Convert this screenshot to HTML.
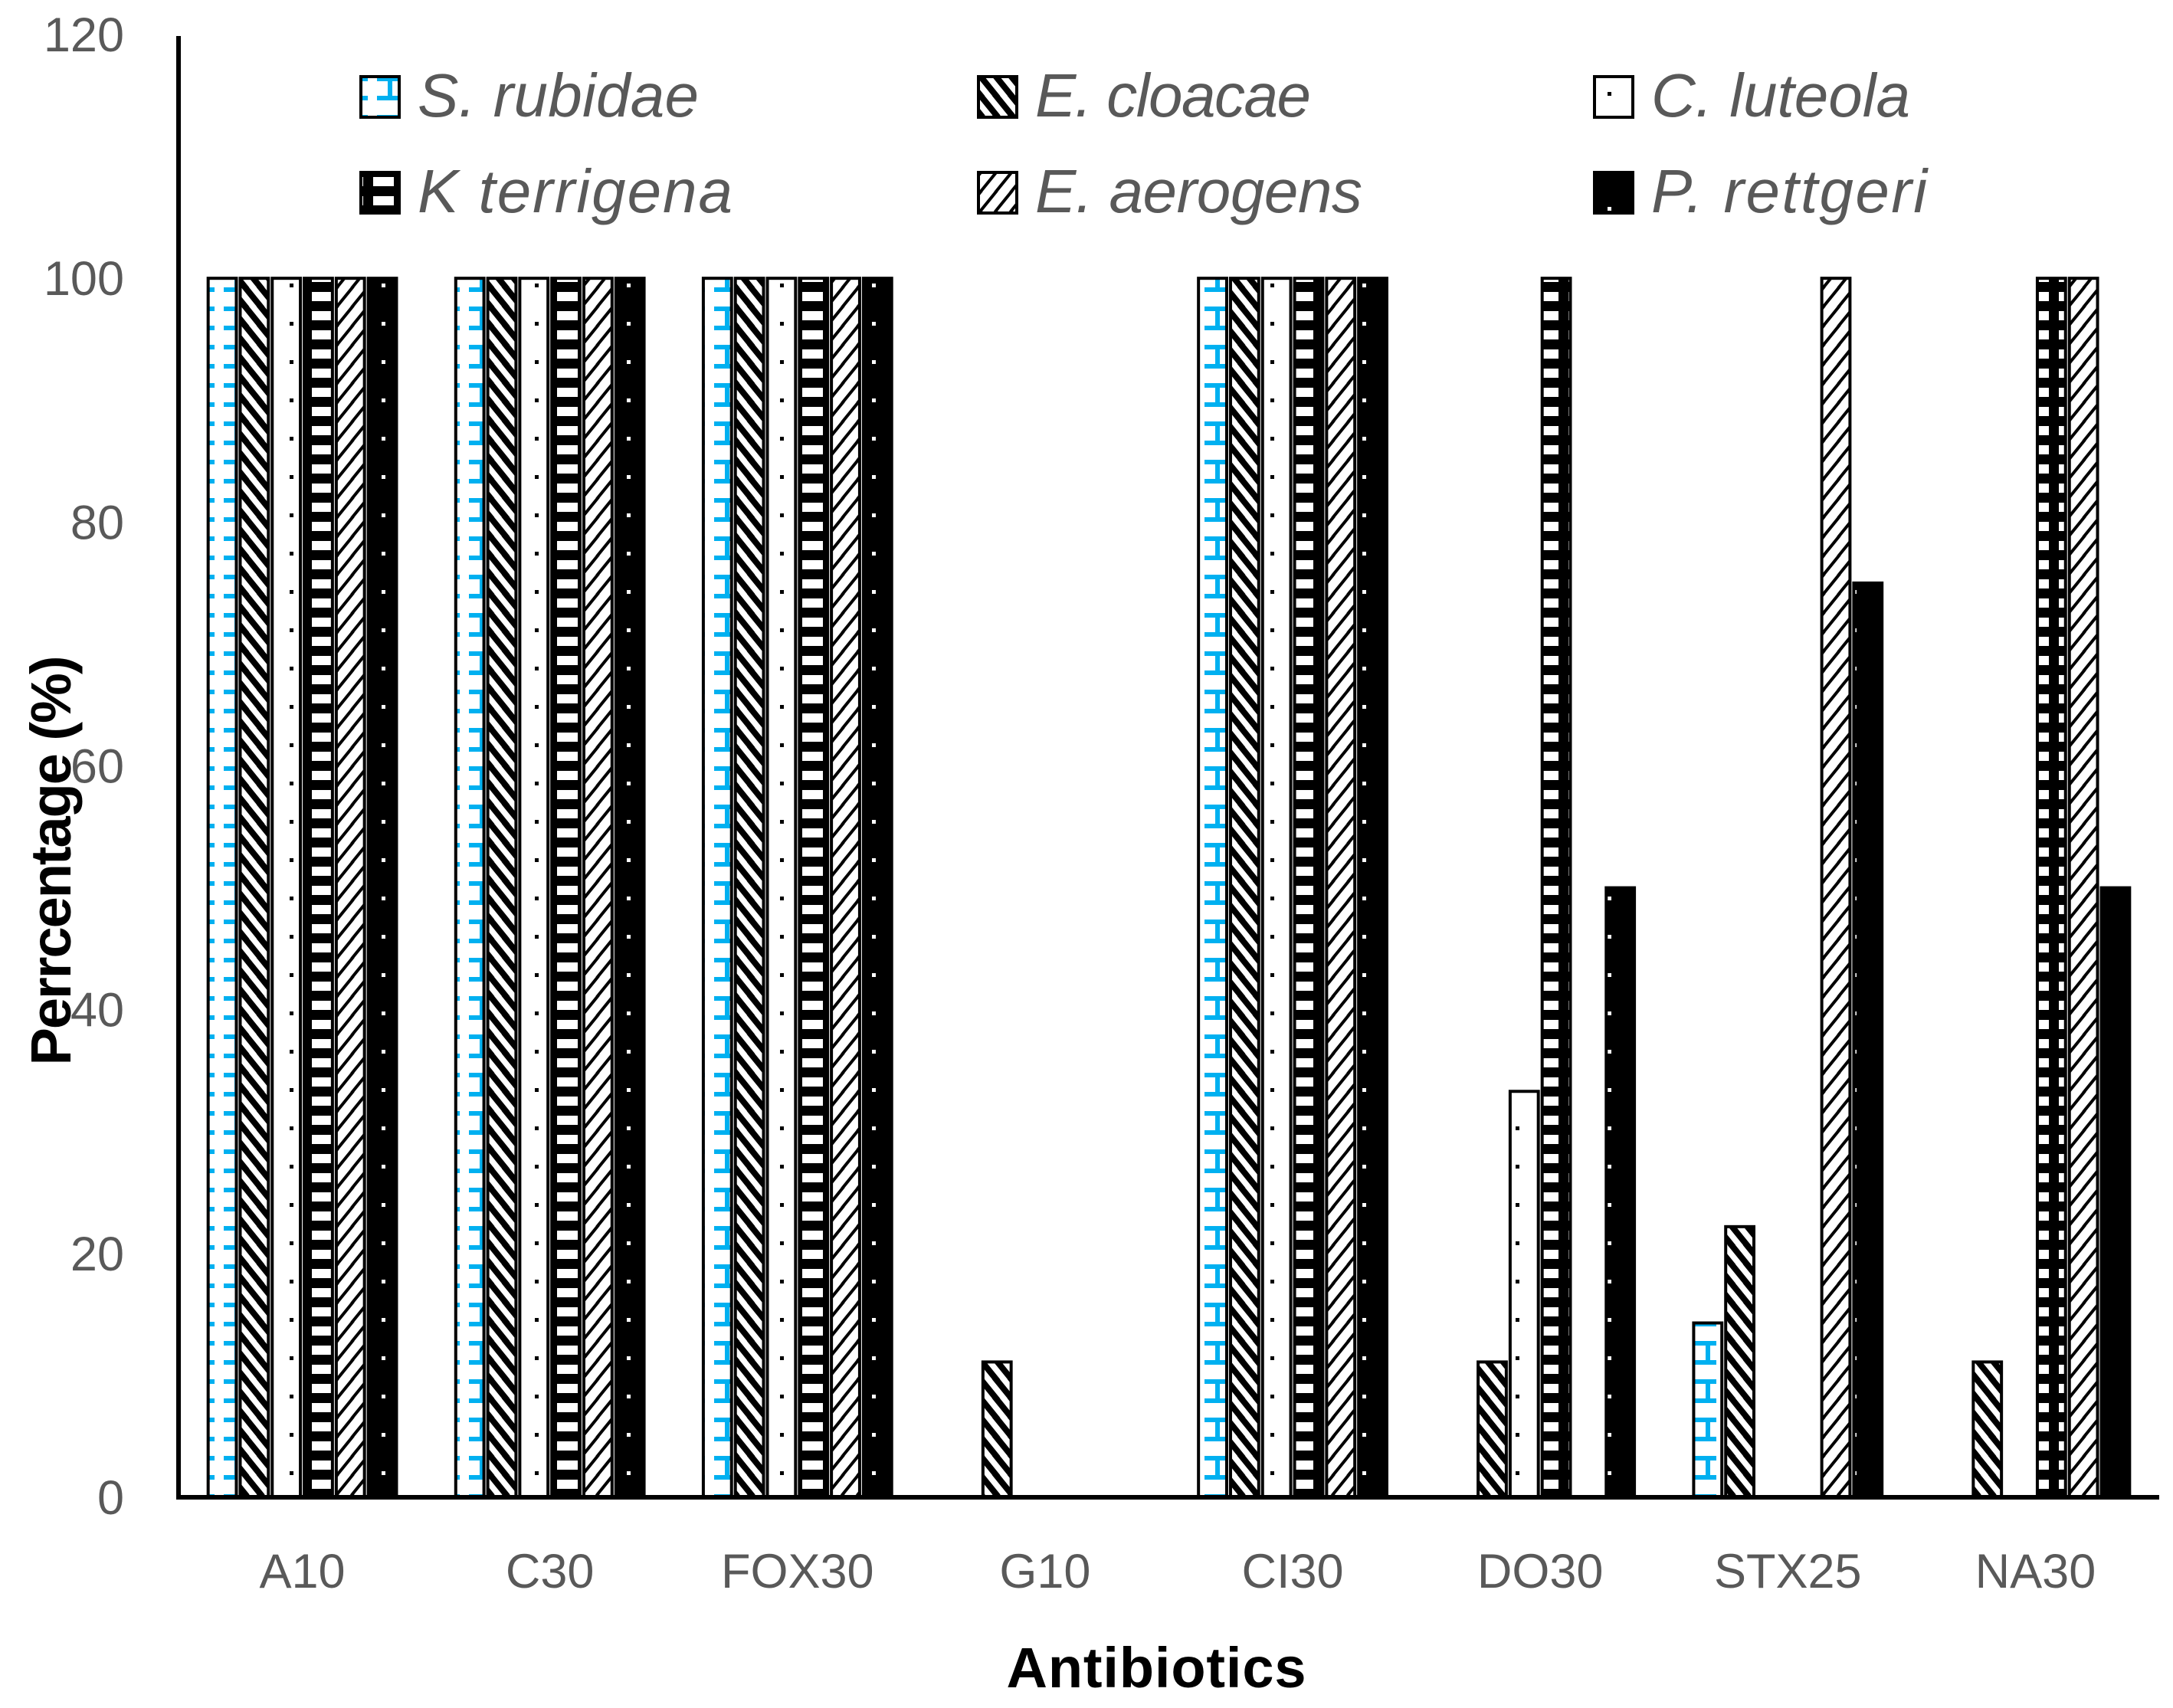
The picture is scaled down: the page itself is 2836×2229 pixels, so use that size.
<!DOCTYPE html>
<html><head><meta charset="utf-8">
<style>
html,body{margin:0;padding:0;background:#fff;}
svg{display:block;}
.tick{font-family:"Liberation Sans",sans-serif;font-size:63px;fill:#595959;}
.leg{font-family:"Liberation Sans",sans-serif;font-size:80px;font-style:italic;fill:#595959;}
.title{font-family:"Liberation Sans",sans-serif;font-size:74px;font-weight:bold;fill:#000;}
</style></head>
<body>
<svg id="chart" width="2836" height="2229" viewBox="0 0 2836 2229" xmlns="http://www.w3.org/2000/svg">
<defs>
  <pattern id="p0" patternUnits="userSpaceOnUse" width="40" height="50">
    <rect width="40" height="50" fill="#fff"/>
    <rect x="12" y="0" width="28" height="6" fill="#00B0F0"/>
    <rect x="12" y="25" width="28" height="6" fill="#00B0F0"/>
    <rect x="26" y="6" width="6" height="19" fill="#00B0F0"/>
  </pattern>
  <pattern id="p1" patternUnits="userSpaceOnUse" width="20" height="25">
    <rect width="20" height="25" fill="#fff"/>
    <path d="M-5,-6 L25,31 M-25,-6 L5,31 M15,-6 L45,31" stroke="#000" stroke-width="8"/>
  </pattern>
  <pattern id="p2" patternUnits="userSpaceOnUse" width="40" height="50">
    <rect width="40" height="50" fill="#fff"/>
    <rect x="18" y="20" width="5" height="5" fill="#000"/>
  </pattern>
  <pattern id="p3" patternUnits="userSpaceOnUse" width="40" height="25">
    <rect width="40" height="25" fill="#000"/>
    <rect x="7" y="6" width="27" height="12" fill="#fff"/>
  </pattern>
  <pattern id="p4" patternUnits="userSpaceOnUse" width="20" height="25">
    <rect width="20" height="25" fill="#fff"/>
    <path d="M25,-6 L-5,31 M45,-6 L15,31 M5,-6 L-25,31" stroke="#000" stroke-width="4"/>
  </pattern>
  <pattern id="p5" patternUnits="userSpaceOnUse" width="40" height="50">
    <rect width="40" height="50" fill="#000"/>
    <rect x="18" y="20" width="5" height="5" fill="#fff"/>
  </pattern>
</defs>
<g id="yticks"></g>
<g id="bars"></g>
<g id="xlabels"></g>
<line x1="233" y1="47" x2="233" y2="1957" stroke="#000" stroke-width="6"/>
<line x1="230" y1="1954" x2="2818" y2="1954" stroke="#000" stroke-width="6"/>
<g id="legend"></g>
<text class="title" x="1509" y="2202" text-anchor="middle" textLength="391">Antibiotics</text>
<text class="title" transform="translate(92,1123) rotate(-90)" text-anchor="middle" textLength="535">Perrcentage (%)</text>
</svg>
<script>
const categories = ["A10","C30","FOX30","G10","CI30","DO30","STX25","NA30"];
const seriesNames = ["S. rubidae","E. cloacae","C. luteola","K terrigena","E. aerogens","P. rettgeri"];
const sRubidae   = [100,100,100,0,100,0,14.3,0];
const eCloacae   = [100,100,100,11.1,100,11.1,22.2,11.1];
const cLuteola   = [100,100,100,0,100,33.3,0,0];
const kTerrigena = [100,100,100,0,100,100,0,100];
const eAerogens  = [100,100,100,0,100,0,100,100];
const pRettgeri  = [100,100,100,0,100,50,75,50];
const yTicks = [0,20,40,60,80,100,120];

const series = [sRubidae,eCloacae,cLuteola,kTerrigena,eAerogens,pRettgeri];
const NS = "http://www.w3.org/2000/svg";
const x0 = 233, x1 = 2818, yBase = 1954, yTop = 45;
const yScale = v => yBase - (yBase - yTop) * v / 120;
const catW = (x1 - x0) / categories.length;
const slot = 41.8;
const xBar = (c, s) => x0 + c * catW + (catW - slot * series.length) / 2 + s * slot;

const yt = document.getElementById('yticks');
yTicks.forEach(t => {
  const tx = document.createElementNS(NS, 'text');
  tx.setAttribute('class', 'tick');
  tx.setAttribute('x', 162);
  tx.setAttribute('y', yScale(t) + 22);
  tx.setAttribute('text-anchor', 'end');
  tx.textContent = t;
  
  
  yt.appendChild(tx);
});

const xl = document.getElementById('xlabels');
categories.forEach((c, i) => {
  const tx = document.createElementNS(NS, 'text');
  tx.setAttribute('class', 'tick');
  tx.setAttribute('x', x0 + catW * (i + 0.5));
  tx.setAttribute('y', 2072);
  tx.setAttribute('text-anchor', 'middle');
  tx.textContent = c;
  
  
  xl.appendChild(tx);
});

const bg = document.getElementById('bars');
series.forEach((vals, s) => {
  vals.forEach((v, c) => {
    if (v <= 0) return;
    const r = document.createElementNS(NS, 'rect');
    const y = yScale(v);
    r.setAttribute('x', xBar(c, s) + 2.5);
    r.setAttribute('y', y);
    r.setAttribute('width', slot - 5);
    r.setAttribute('height', yBase - y);
    r.setAttribute('fill', 'url(#p' + s + ')');
    r.setAttribute('stroke', '#000');
    r.setAttribute('stroke-width', '4');
    
    
    bg.appendChild(r);
  });
});

const lg = document.getElementById('legend');
const legX = [469, 1275, 2079], legY = [98, 223];
const legLen = [367, 360, 338, 411, 427, 360];
seriesNames.forEach((n, i) => {
  const col = i % 3, row = Math.floor(i / 3);
  const g = document.createElementNS(NS, 'g');
  
  
  const r = document.createElementNS(NS, 'rect');
  r.setAttribute('x', legX[col] + 2);
  r.setAttribute('y', legY[row] + 2);
  r.setAttribute('width', 50);
  r.setAttribute('height', 53);
  r.setAttribute('fill', 'url(#p' + i + ')');
  r.setAttribute('stroke', '#000');
  r.setAttribute('stroke-width', '4');
  
  
  g.appendChild(r);
  const t = document.createElementNS(NS, 'text');
  t.setAttribute('class', 'leg');
  t.setAttribute('x', legX[col] + 76);
  t.setAttribute('y', legY[row] + 54);
  t.setAttribute('textLength', legLen[i]);
  t.textContent = n;
  
  
  g.appendChild(t);
  lg.appendChild(g);
});
</script>
</body></html>
